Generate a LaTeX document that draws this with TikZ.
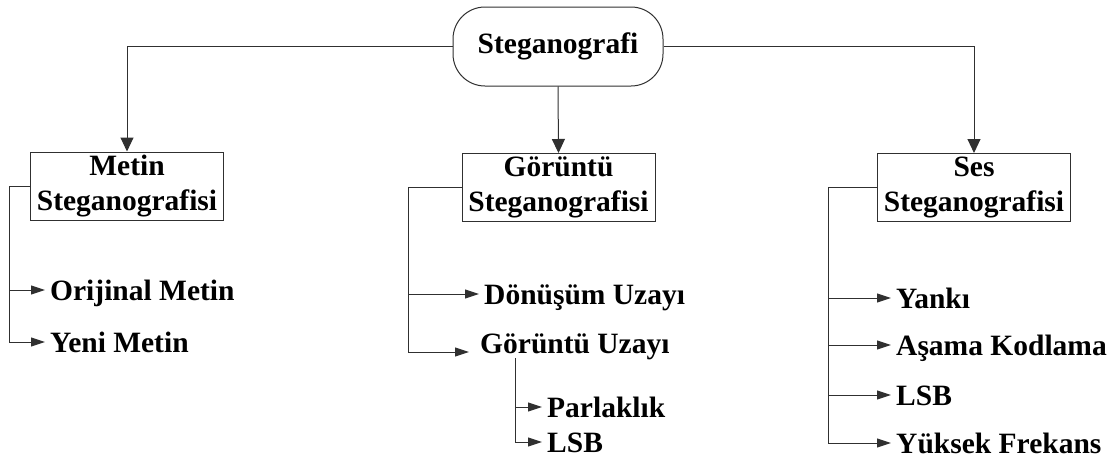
\documentclass[tikz,border=0pt]{standalone}
\usepackage{fontspec}
\setmainfont{Liberation Serif}
\usepackage{tikz}
\usetikzlibrary{arrows.meta,positioning,calc}
\definecolor{LineGray}{HTML}{303030}
\newcommand{\diafont}{\bfseries\fontsize{29.5}{35}\selectfont}
\tikzset{
  rootbox/.style={draw=LineGray,line width=1pt,rounded corners=32pt,minimum width=210pt,minimum height=79pt,inner sep=0pt,font=\diafont},
  typebox/.style={draw=LineGray,line width=1pt,minimum width=193pt,minimum height=68pt,inner sep=2pt,align=center,font=\diafont},
  leaf/.style={anchor=west,inner xsep=5pt,inner ysep=0pt,text height=20pt,text depth=0pt,font=\diafont},
  bigtip/.style={draw=LineGray,line width=1pt,-{Triangle[length=14pt,width=13pt]}},
  smalltip/.style={draw=LineGray,line width=1pt,-{Triangle[length=14pt,width=9pt]}},
  branch/.style={draw=LineGray,line width=1pt}
}

\begin{document}
\begin{tikzpicture}[x=1pt,y=-1pt]
    \useasboundingbox (0,0) rectangle (1120,466);
    % top and the three kinds
    \node[rootbox] (steg) at (558,46.5) {Steganografi};
    \node[typebox] (metin) at (127,186) {Metin\\Steganografisi};
    \node[typebox] (goruntu) at (558.5,187.5) {Görüntü\\Steganografisi};
    \node[typebox] (ses) at (974,187.5) {Ses\\Steganografisi};
    \draw[bigtip] (steg.west) -| (metin.north);
    \draw[bigtip] (steg.south) -- (goruntu.north);
    \draw[bigtip] (steg.east) -| (ses.north);
    % metin
    \node[leaf] (orijinal) at (45,290) {Orijinal Metin};
    \node[leaf] (yeni) at (45,342) {Yeni Metin};
    \draw[branch] (metin.west) -- (9,186) coordinate (mb);
    \draw[smalltip] (mb) |- (orijinal.west);
    \draw[smalltip] (mb) |- (yeni.west);
    % goruntu
    \node[leaf] (donusum) at (479,294) {Dönüşüm Uzayı};
    \node[leaf] (guzay) at (475,343) {Görüntü Uzayı};
    \coordinate (gutip) at (469,352);
    \draw[branch] (goruntu.west) -- (408,187.5) coordinate (gb);
    \draw[smalltip] (gb) |- (donusum.west);
    \draw[smalltip] (gb) |- (gutip);
    \node[leaf] (parlak) at (542,407) {Parlaklık};
    \node[leaf] (glsb) at (542,442) {LSB};
    \coordinate (gs) at (515,358);
    \draw[smalltip] (gs) |- (parlak.west);
    \draw[smalltip] (gs) |- (glsb.west);
    % ses
    \node[leaf] (yanki) at (891,298) {Yankı};
    \node[leaf] (asama) at (891,345) {Aşama Kodlama};
    \node[leaf] (slsb) at (891,395) {LSB};
    \node[leaf] (yuksek) at (891,443) {Yüksek Frekans};
    \draw[branch] (ses.west) -- (828,187.5) coordinate (sb);
    \draw[smalltip] (sb) |- (yanki.west);
    \draw[smalltip] (sb) |- (asama.west);
    \draw[smalltip] (sb) |- (slsb.west);
    \draw[smalltip] (sb) |- (yuksek.west);
\end{tikzpicture}
\end{document}
